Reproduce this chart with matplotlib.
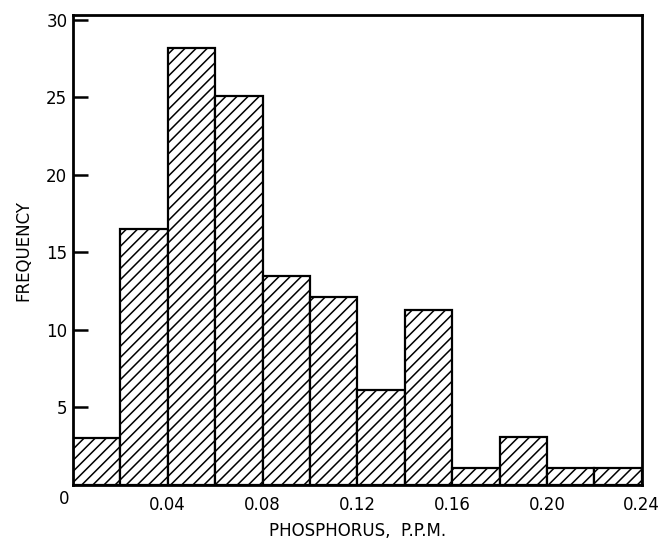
import matplotlib.pyplot as plt
import numpy as np

# histogram of phosphorus concentration
bin_edges = [0.00, 0.02, 0.04, 0.06, 0.08, 0.10, 0.12, 0.14, 0.16, 0.18, 0.20, 0.22, 0.24]
freq = [3.0, 16.5, 28.2, 25.1, 13.5, 12.1, 6.1, 11.3, 1.1, 3.1, 1.1, 1.1]
xticks = [0.04, 0.08, 0.12, 0.16, 0.20, 0.24]
xticklabels = ['0.04', '0.08', '0.12', '0.16', '0.20', '0.24']
yticks = [5, 10, 15, 20, 25, 30]

plt.rcParams['hatch.linewidth'] = 1.1
plt.rcParams['font.family'] = 'DejaVu Sans'

fig = plt.figure(figsize=(6.63, 5.40), dpi=100)
ax = fig.add_axes([0.110, 0.102, 0.858, 0.870])

left = np.array(bin_edges[:-1])
widths = np.diff(bin_edges)
ax.bar(left, freq, width=widths, align='edge', color='white',
       edgecolor='black', linewidth=1.6, hatch='///')

ax.set_xlim(0, 0.24)
ax.set_ylim(0, 30.3)
ax.set_xticks(xticks)
ax.set_xticklabels(xticklabels)
ax.set_yticks(yticks)
ax.tick_params(axis='x', length=0, pad=8, labelsize=12)
ax.tick_params(axis='y', direction='in', length=11, width=1.8, pad=4, labelsize=12)
for s in ax.spines.values():
    s.set_linewidth(2)

ax.text(-0.0015, -0.3, '0', ha='right', va='top', fontsize=12)

ax.set_xlabel('PHOSPHORUS,  P.P.M.', fontsize=12, labelpad=6)
ax.set_ylabel('FREQUENCY', fontsize=12, labelpad=10)

fig.savefig('out.png', dpi=100)
